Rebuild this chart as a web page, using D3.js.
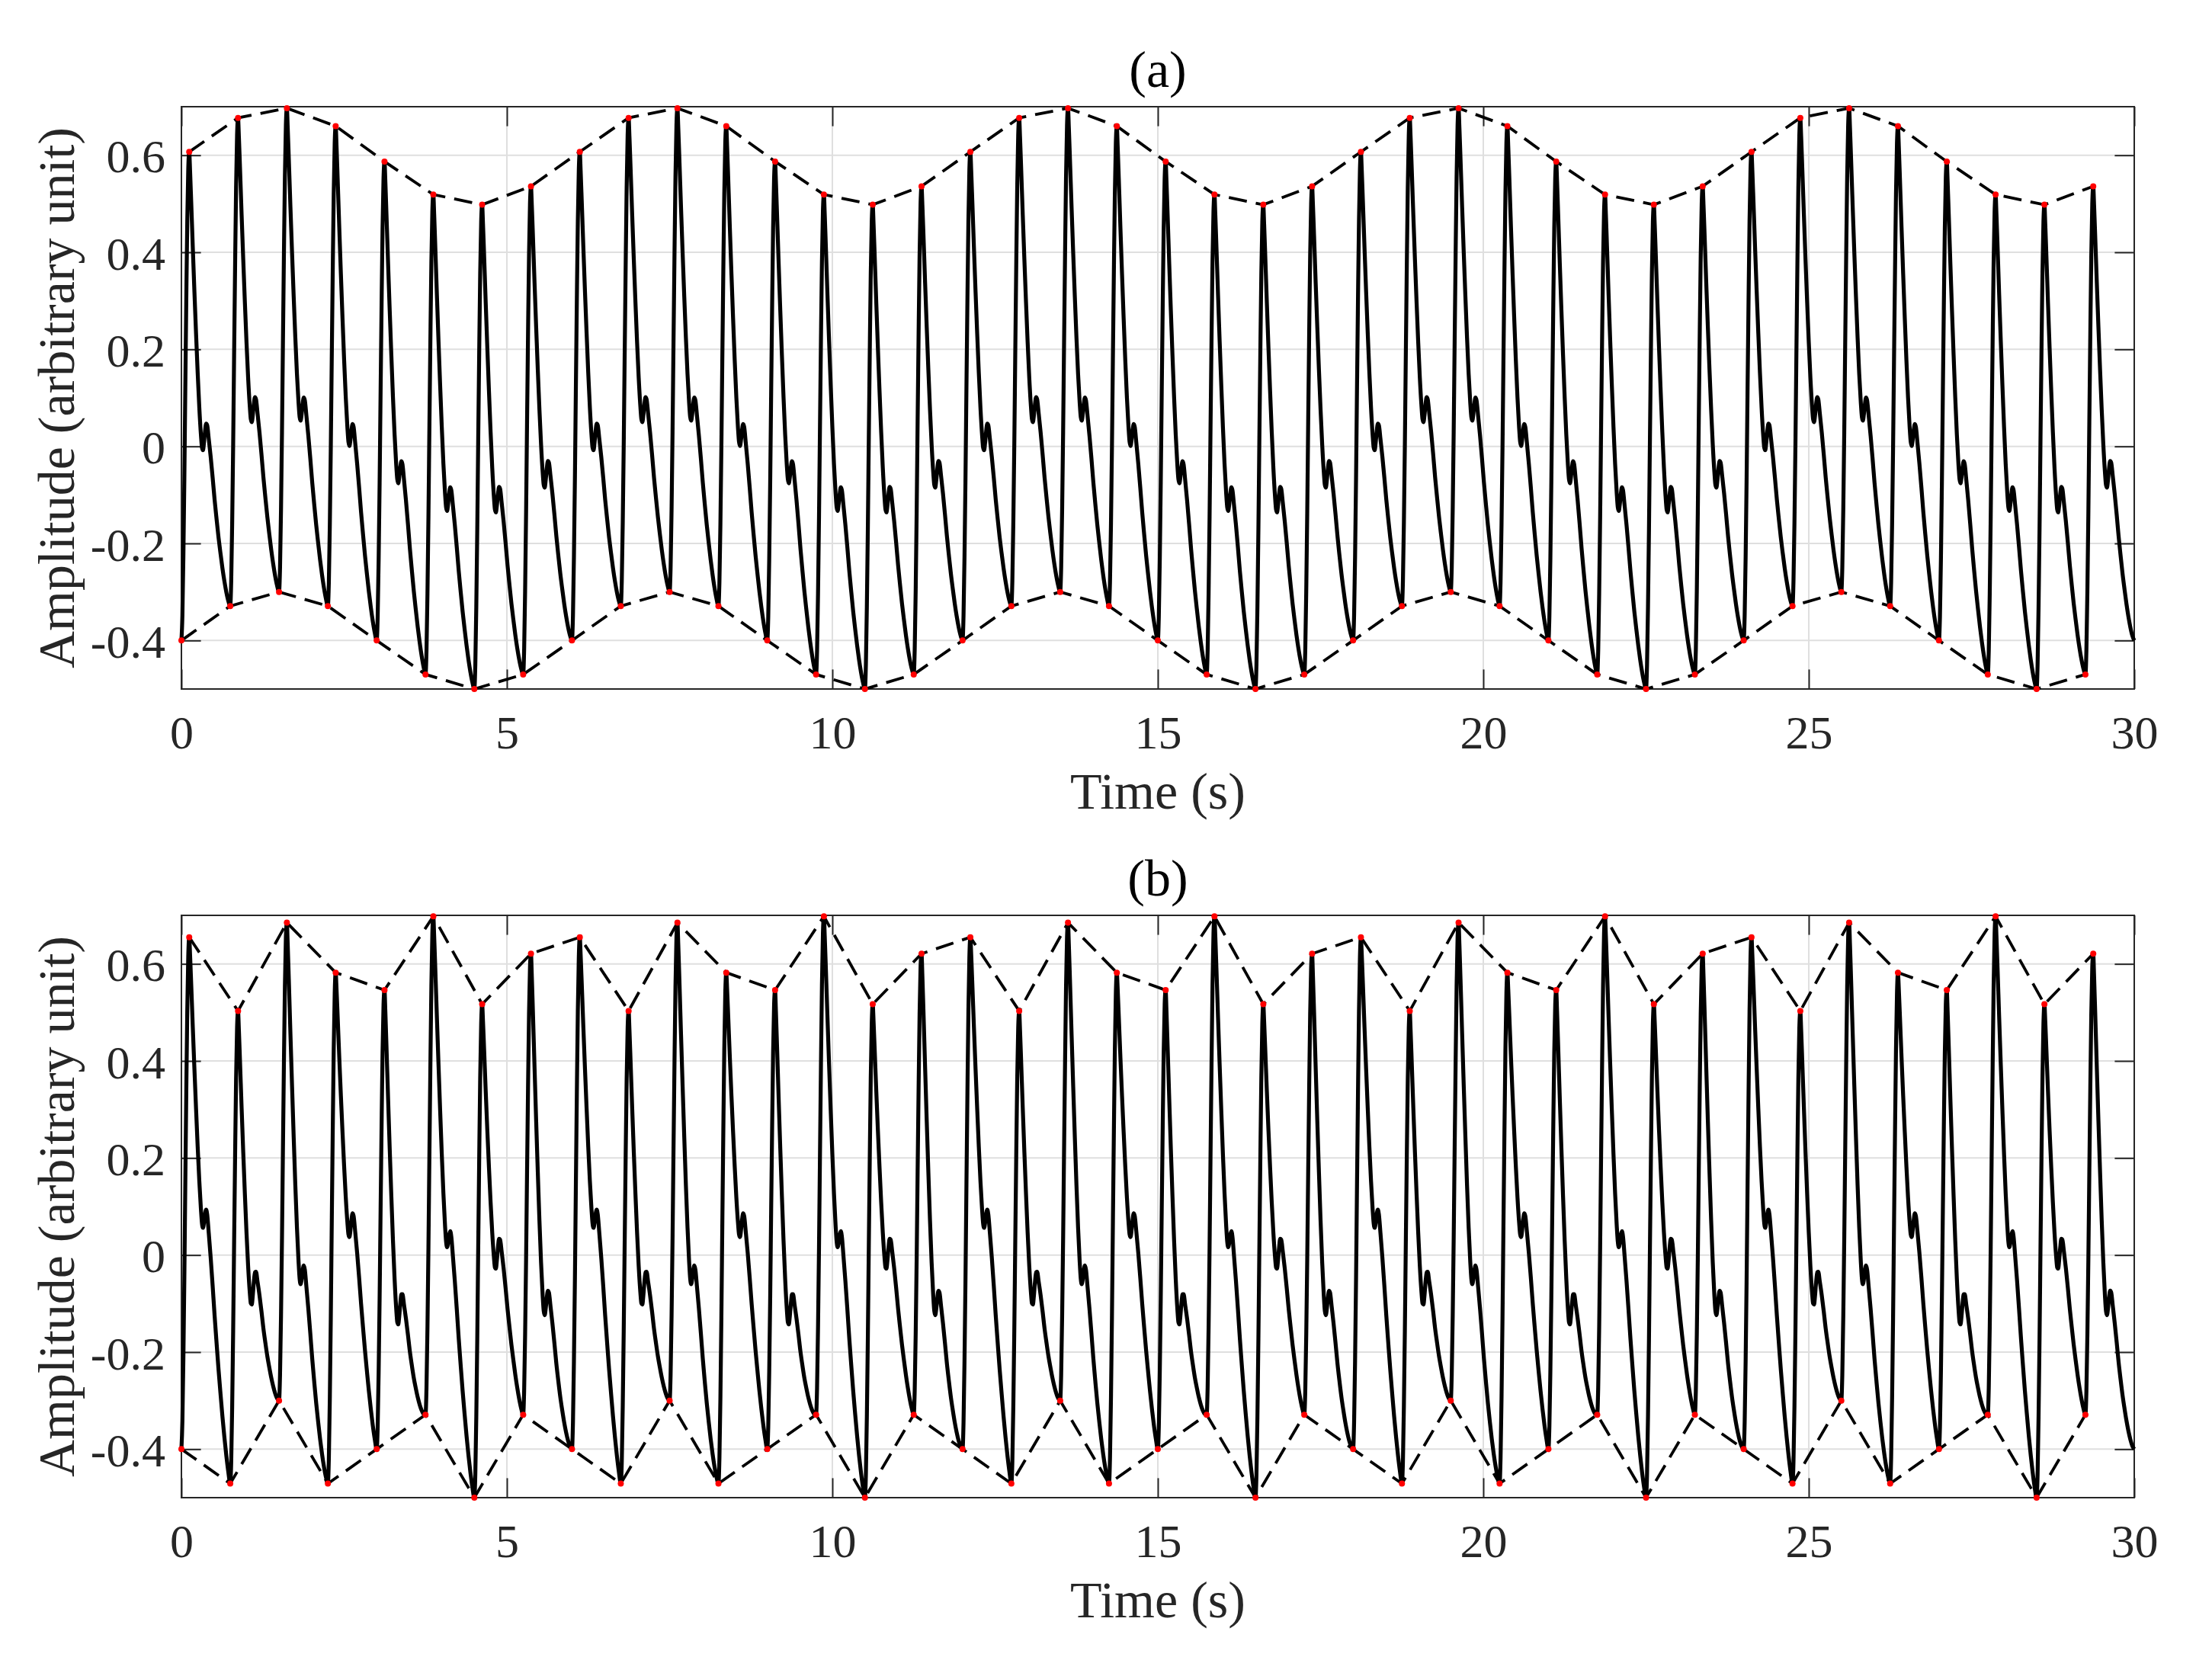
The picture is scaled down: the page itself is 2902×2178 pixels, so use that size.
<!DOCTYPE html>
<html><head><meta charset="utf-8">
<script src="https://cdn.jsdelivr.net/npm/d3@7"></script>
<style>
html,body{margin:0;padding:0;background:#fff;}
svg{display:block;}
</style>
</head><body>
<svg id="chart" width="2902" height="2178"></svg>
<script>
// ---------------- data ----------------
const onsetTimes = [0, 0.75, 1.5, 2.25, 3, 3.75, 4.5, 5.25, 6, 6.75, 7.5, 8.25, 9, 9.75, 10.5, 11.25, 12, 12.75, 13.5, 14.25,
  15, 15.75, 16.5, 17.25, 18, 18.75, 19.5, 20.25, 21, 21.75, 22.5, 23.25, 24, 24.75, 25.5, 26.25, 27, 27.75, 28.5, 29.25];
const peakTimes = [0.12, 0.87, 1.62, 2.37, 3.12, 3.87, 4.62, 5.37, 6.12, 6.87, 7.62, 8.37, 9.12, 9.87, 10.62, 11.37, 12.12, 12.87, 13.62, 14.37,
  15.12, 15.87, 16.62, 17.37, 18.12, 18.87, 19.62, 20.37, 21.12, 21.87, 22.62, 23.37, 24.12, 24.87, 25.62, 26.37, 27.12, 27.87, 28.62, 29.37];

const troughsA = [-0.4, -0.329, -0.3, -0.329, -0.4, -0.47, -0.5, -0.47, -0.4, -0.329, -0.3, -0.329, -0.4, -0.47, -0.5, -0.47,
  -0.4, -0.329, -0.3, -0.329, -0.4, -0.47, -0.5, -0.47, -0.4, -0.329, -0.3, -0.329, -0.4, -0.47, -0.5, -0.47,
  -0.4, -0.329, -0.3, -0.329, -0.4, -0.47, -0.5, -0.47];
const peaksA = [0.607, 0.677, 0.697, 0.66, 0.587, 0.519, 0.498, 0.536, 0.607, 0.677, 0.697, 0.66, 0.587, 0.519, 0.498, 0.536,
  0.607, 0.677, 0.697, 0.66, 0.587, 0.519, 0.498, 0.536, 0.607, 0.677, 0.697, 0.66, 0.587, 0.519, 0.498, 0.536,
  0.607, 0.677, 0.697, 0.66, 0.587, 0.519, 0.498, 0.536];
const notchA = [-0.008, 0.05, 0.053, 0.001, -0.076, -0.133, -0.136, -0.085, -0.008, 0.05, 0.053, 0.001, -0.076, -0.133, -0.136, -0.085,
  -0.008, 0.05, 0.053, 0.001, -0.076, -0.133, -0.136, -0.085, -0.008, 0.05, 0.053, 0.001, -0.076, -0.133, -0.136, -0.085,
  -0.008, 0.05, 0.053, 0.001, -0.076, -0.133, -0.136, -0.085];
const endValueA = -0.4;

const troughsB = [-0.4, -0.471, -0.3, -0.471, -0.4, -0.329, -0.5, -0.329, -0.4, -0.471, -0.3, -0.471, -0.4, -0.329, -0.5, -0.329,
  -0.4, -0.471, -0.3, -0.471, -0.4, -0.329, -0.5, -0.329, -0.4, -0.471, -0.3, -0.471, -0.4, -0.329, -0.5, -0.329,
  -0.4, -0.471, -0.3, -0.471, -0.4, -0.329, -0.5, -0.329];
const peaksB = [0.655, 0.503, 0.685, 0.582, 0.546, 0.698, 0.517, 0.621, 0.655, 0.503, 0.685, 0.582, 0.546, 0.698, 0.517, 0.621,
  0.655, 0.503, 0.685, 0.582, 0.546, 0.698, 0.517, 0.621, 0.655, 0.503, 0.685, 0.582, 0.546, 0.698, 0.517, 0.621,
  0.655, 0.503, 0.685, 0.582, 0.546, 0.698, 0.517, 0.621];
const notchB = [0.056, -0.102, -0.06, 0.037, -0.143, 0.016, -0.028, -0.124, 0.056, -0.102, -0.06, 0.037, -0.143, 0.016, -0.028, -0.124,
  0.056, -0.102, -0.06, 0.037, -0.143, 0.016, -0.028, -0.124, 0.056, -0.102, -0.06, 0.037, -0.143, 0.016, -0.028, -0.124,
  0.056, -0.102, -0.06, 0.037, -0.143, 0.016, -0.028, -0.124];
const endValueB = -0.4;

// one beat of the pulse (seconds after the trough, height above the trough)
const pulseShapeTime  = [0, 0.015, 0.03, 0.045, 0.06, 0.075, 0.09, 0.105, 0.12, 0.133, 0.15, 0.175, 0.2, 0.225, 0.25, 0.275, 0.3,
  0.316, 0.331, 0.346, 0.362, 0.38, 0.396, 0.42, 0.45, 0.48, 0.51, 0.54, 0.57, 0.6, 0.63, 0.66, 0.69, 0.72, 0.75];
const pulseShapeValue = [0, 0.05, 0.17, 0.33, 0.52, 0.70, 0.86, 0.965, 1.0, 0.96, 0.895, 0.795, 0.70, 0.61, 0.525, 0.45, 0.39,
  0.362, 0.355, 0.368, 0.39, 0.405, 0.40, 0.37, 0.33, 0.285, 0.237, 0.195, 0.155, 0.12, 0.087, 0.058, 0.033, 0.013, 0];
const notchIndex = 18;   // position of the dicrotic notch in the pulse shape
const peakIndex = 8;

const xTicks = [0, 5, 10, 15, 20, 25, 30];
const yTicks = [-0.4, -0.2, 0, 0.2, 0.4, 0.6];
const xDomain = [0, 30];
const yDomain = [-0.5, 0.7];
const panelTitles = ["(a)", "(b)"];
const xLabel = "Time (s)";
const yLabel = "Amplitude (arbitrary unit)";

// ---------------- drawing ----------------
const svg = d3.select("#chart");
svg.append("rect").attr("width", 2902).attr("height", 2178).attr("fill", "#fff");

const FONT = "'Liberation Serif','Times New Roman',Times,serif";
const AX = "#262626";
const left = 238, right = 2800;
const panels = [
  {title: panelTitles[0], top: 140, bottom: 904, troughs: troughsA, peaks: peaksA, notch: notchA, end: endValueA},
  {title: panelTitles[1], top: 1201, bottom: 1965, troughs: troughsB, peaks: peaksB, notch: notchB, end: endValueB}
];

function buildSignal(troughs, peaks, notch, endValue) {
  const sPeak = pulseShapeValue[peakIndex], sNotch = pulseShapeValue[notchIndex], tNotch = pulseShapeTime[notchIndex];
  const knots = [];
  onsetTimes.forEach((t0, i) => {
    knots.push([t0, troughs[i]]);
    knots.push([peakTimes[i], peaks[i] - sPeak]);
    knots.push([t0 + tNotch, notch[i] - sNotch]);
  });
  knots.push([xDomain[1], endValue]);
  const m = knots.map((k, i) => {
    const a = knots[Math.max(i - 1, 0)], b = knots[Math.min(i + 1, knots.length - 1)];
    return (b[1] - a[1]) / (b[0] - a[0]);
  });
  const kt = knots.map(k => k[0]);
  const base = t => {
    let j = d3.bisectRight(kt, t) - 1;
    j = Math.max(0, Math.min(knots.length - 2, j));
    const [t1, y1] = knots[j], [t2, y2] = knots[j + 1];
    const h = t2 - t1, u = (t - t1) / h;
    const h00 = 2*u*u*u - 3*u*u + 1, h10 = u*u*u - 2*u*u + u, h01 = -2*u*u*u + 3*u*u, h11 = u*u*u - u*u;
    return h00*y1 + h10*h*m[j] + h01*y2 + h11*h*m[j + 1];
  };
  const pts = [];
  onsetTimes.forEach((t0, i) => {
    const last = i === onsetTimes.length - 1;
    pulseShapeTime.forEach((tau, j) => {
      if (!last && j === pulseShapeTime.length - 1) return;
      const t = Math.min(t0 + tau, xDomain[1]);
      pts.push([t, base(t) + pulseShapeValue[j]]);
    });
  });
  return pts;
}

panels.forEach(p => {
  const x = d3.scaleLinear().domain(xDomain).range([left, right]);
  const y = d3.scaleLinear().domain(yDomain).range([p.bottom, p.top]);
  const g = svg.append("g");

  // grid
  g.append("g").selectAll("line").data(xTicks).join("line")
    .attr("x1", d => x(d)).attr("x2", d => x(d)).attr("y1", p.top).attr("y2", p.bottom)
    .attr("stroke", "#dfdfdf").attr("stroke-width", 2);
  g.append("g").selectAll("line").data(yTicks).join("line")
    .attr("y1", d => y(d)).attr("y2", d => y(d)).attr("x1", left).attr("x2", right)
    .attr("stroke", "#dfdfdf").attr("stroke-width", 2);

  const tick = 25.6;
  const styleAxis = sel => {
    sel.select(".domain").remove();
    sel.selectAll(".tick line").attr("stroke", AX).attr("stroke-width", 2);
    sel.selectAll("text").attr("font-family", FONT).attr("font-size", 62).attr("fill", AX);
  };
  const fmt = d => d === 0 ? "0" : d.toFixed(1);

  const bx = g.append("g").attr("transform", `translate(0,${p.bottom})`)
    .call(d3.axisBottom(x).tickValues(xTicks).tickSizeInner(-tick).tickSizeOuter(0).tickFormat(d3.format("d")));
  styleAxis(bx);
  bx.selectAll("text").attr("y", 78).attr("dy", null);

  const tx = g.append("g").attr("transform", `translate(0,${p.top})`)
    .call(d3.axisTop(x).tickValues(xTicks).tickSizeInner(-tick).tickSizeOuter(0).tickFormat(""));
  styleAxis(tx);

  const ly = g.append("g").attr("transform", `translate(${left},0)`)
    .call(d3.axisLeft(y).tickValues(yTicks).tickSizeInner(-tick).tickSizeOuter(0).tickFormat(fmt));
  styleAxis(ly);
  ly.selectAll("text").attr("x", -21).attr("dy", "0.36em");

  const ry = g.append("g").attr("transform", `translate(${right},0)`)
    .call(d3.axisRight(y).tickValues(yTicks).tickSizeInner(-tick).tickSizeOuter(0).tickFormat(""));
  styleAxis(ry);

  // box
  g.append("rect").attr("x", left).attr("y", p.top).attr("width", right - left).attr("height", p.bottom - p.top)
    .attr("fill", "none").attr("stroke", AX).attr("stroke-width", 2);

  // labels
  g.append("text").attr("x", (left + right) / 2).attr("y", p.top - 26).attr("text-anchor", "middle")
    .attr("font-family", FONT).attr("font-size", 68).attr("fill", "#000").text(p.title);
  g.append("text").attr("x", (left + right) / 2).attr("y", p.bottom + 157).attr("text-anchor", "middle")
    .attr("font-family", FONT).attr("font-size", 68).attr("fill", AX).text(xLabel);
  g.append("text").attr("transform", `translate(97,${(p.top + p.bottom) / 2}) rotate(-90)`).attr("text-anchor", "middle")
    .attr("font-family", FONT).attr("font-size", 68).attr("fill", AX).text(yLabel);

  // signal
  const sig = buildSignal(p.troughs, p.peaks, p.notch, p.end);
  const line = d3.line().x(d => x(d[0])).y(d => y(d[1])).curve(d3.curveMonotoneX);
  g.append("path").attr("d", line(sig)).attr("fill", "none").attr("stroke", "#000")
    .attr("stroke-width", 5.2).attr("stroke-linejoin", "round");

  // envelopes
  const env = d3.line().x(d => x(d[0])).y(d => y(d[1]));
  const upper = peakTimes.map((t, i) => [t, p.peaks[i]]);
  const lower = onsetTimes.map((t, i) => [t, p.troughs[i]]);
  [upper, lower].forEach(pts => {
    g.append("path").attr("d", env(pts)).attr("fill", "none").attr("stroke", "#000")
      .attr("stroke-width", 3.8).attr("stroke-dasharray", "24,12");
  });

  // markers
  g.append("g").selectAll("circle").data(upper.concat(lower)).join("circle")
    .attr("cx", d => x(d[0])).attr("cy", d => y(d[1])).attr("r", 4).attr("fill", "#ff0000");
});
</script>
</body></html>
